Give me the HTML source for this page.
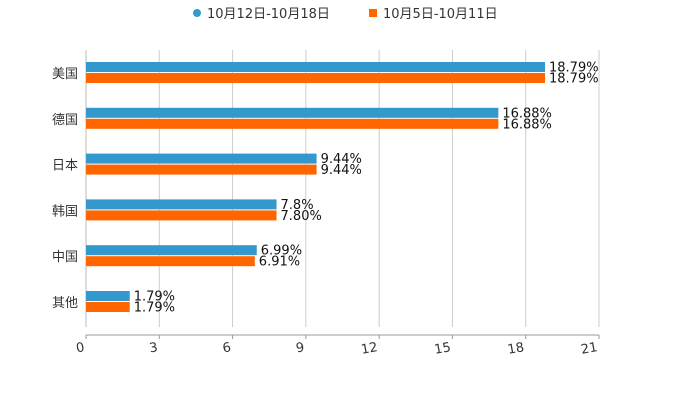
<!DOCTYPE html>
<html><head><meta charset="utf-8"><style>
body{margin:0;background:#fff;font-family:"Liberation Sans","Noto Sans CJK SC",sans-serif}
</style></head><body>
<svg id="c" width="700" height="400" xmlns="http://www.w3.org/2000/svg" font-family="DejaVu Sans, Noto Sans CJK SC, sans-serif"></svg>
<script>
const categories=["美国","德国","日本","韩国","中国","其他"];
const seriesA=[18.79,16.88,9.44,7.8,6.99,1.79];
const seriesB=[18.79,16.88,9.44,7.80,6.91,1.79];
const labelsA=["18.79%","16.88%","9.44%","7.8%","6.99%","1.79%"];
const labelsB=["18.79%","16.88%","9.44%","7.80%","6.91%","1.79%"];
const ticks=[0,3,6,9,12,15,18,21];
const seriesNames=["10月12日-10月18日","10月5日-10月11日"];
const colors=["#3399cc","#ff6600"];
const svg=document.getElementById('c');
const NS='http://www.w3.org/2000/svg';
function mk(t,a,txt){const e=document.createElementNS(NS,t);for(const k in a)e.setAttribute(k,a[k]);if(txt!=null)e.textContent=txt;svg.appendChild(e);return e;}
const x0=86,x1=599,yTop=50,yBot=327;
const xs=v=>x0+(v-ticks[0])/(ticks[ticks.length-1]-ticks[0])*(x1-x0);
const band=45.8;
const yc=i=>73+band*i;
ticks.forEach(t=>{
 const g=mk('line',{x1:xs(t),x2:xs(t),y1:yTop,y2:yBot,stroke:'#cccccc','stroke-width':1});
 
 const tk=mk('line',{x1:xs(t),x2:xs(t),y1:335,y2:339,stroke:'#999','stroke-width':1});
 
 const l=mk('text',{x:xs(t)-1,y:351,'font-size':13,fill:'#333','text-anchor':'end',transform:`rotate(-10 ${xs(t)-1} 351)`},String(t));
 
});
const ax=mk('line',{x1:x0,x2:x1,y1:335,y2:335,stroke:'#999','stroke-width':1});

const ay=mk('line',{x1:x0,x2:x0,y1:yTop,y2:yBot,stroke:'#bbb','stroke-width':1});

categories.forEach((c,i)=>{
 const y=yc(i);
 const cl=mk('text',{x:78,y:y+5,'font-size':13,fill:'#333','text-anchor':'end'},c);
 
 [[seriesA,labelsA,y-11],[seriesB,labelsB,y]].forEach(([s,lb,yy],k)=>{
  const r=mk('rect',{x:x0,y:yy,width:xs(s[i])-x0,height:10,fill:colors[k]});
  
  const t=mk('text',{x:xs(s[i])+4,y:yy+9.5,'font-size':13,fill:'#111'},lb[i]);
  
 });
});
[[197,214,0],[373,390,1]].forEach(([mx,tx,k])=>{
 const m=k==0?mk('circle',{cx:mx,cy:13,r:4,fill:colors[0]}):mk('rect',{x:mx-4,y:9,width:8,height:8,fill:colors[1]});
 
 const t=mk('text',{x:tx-7,y:18,'font-size':13,fill:'#333'},seriesNames[k]);
 
});
</script>
</body></html>
